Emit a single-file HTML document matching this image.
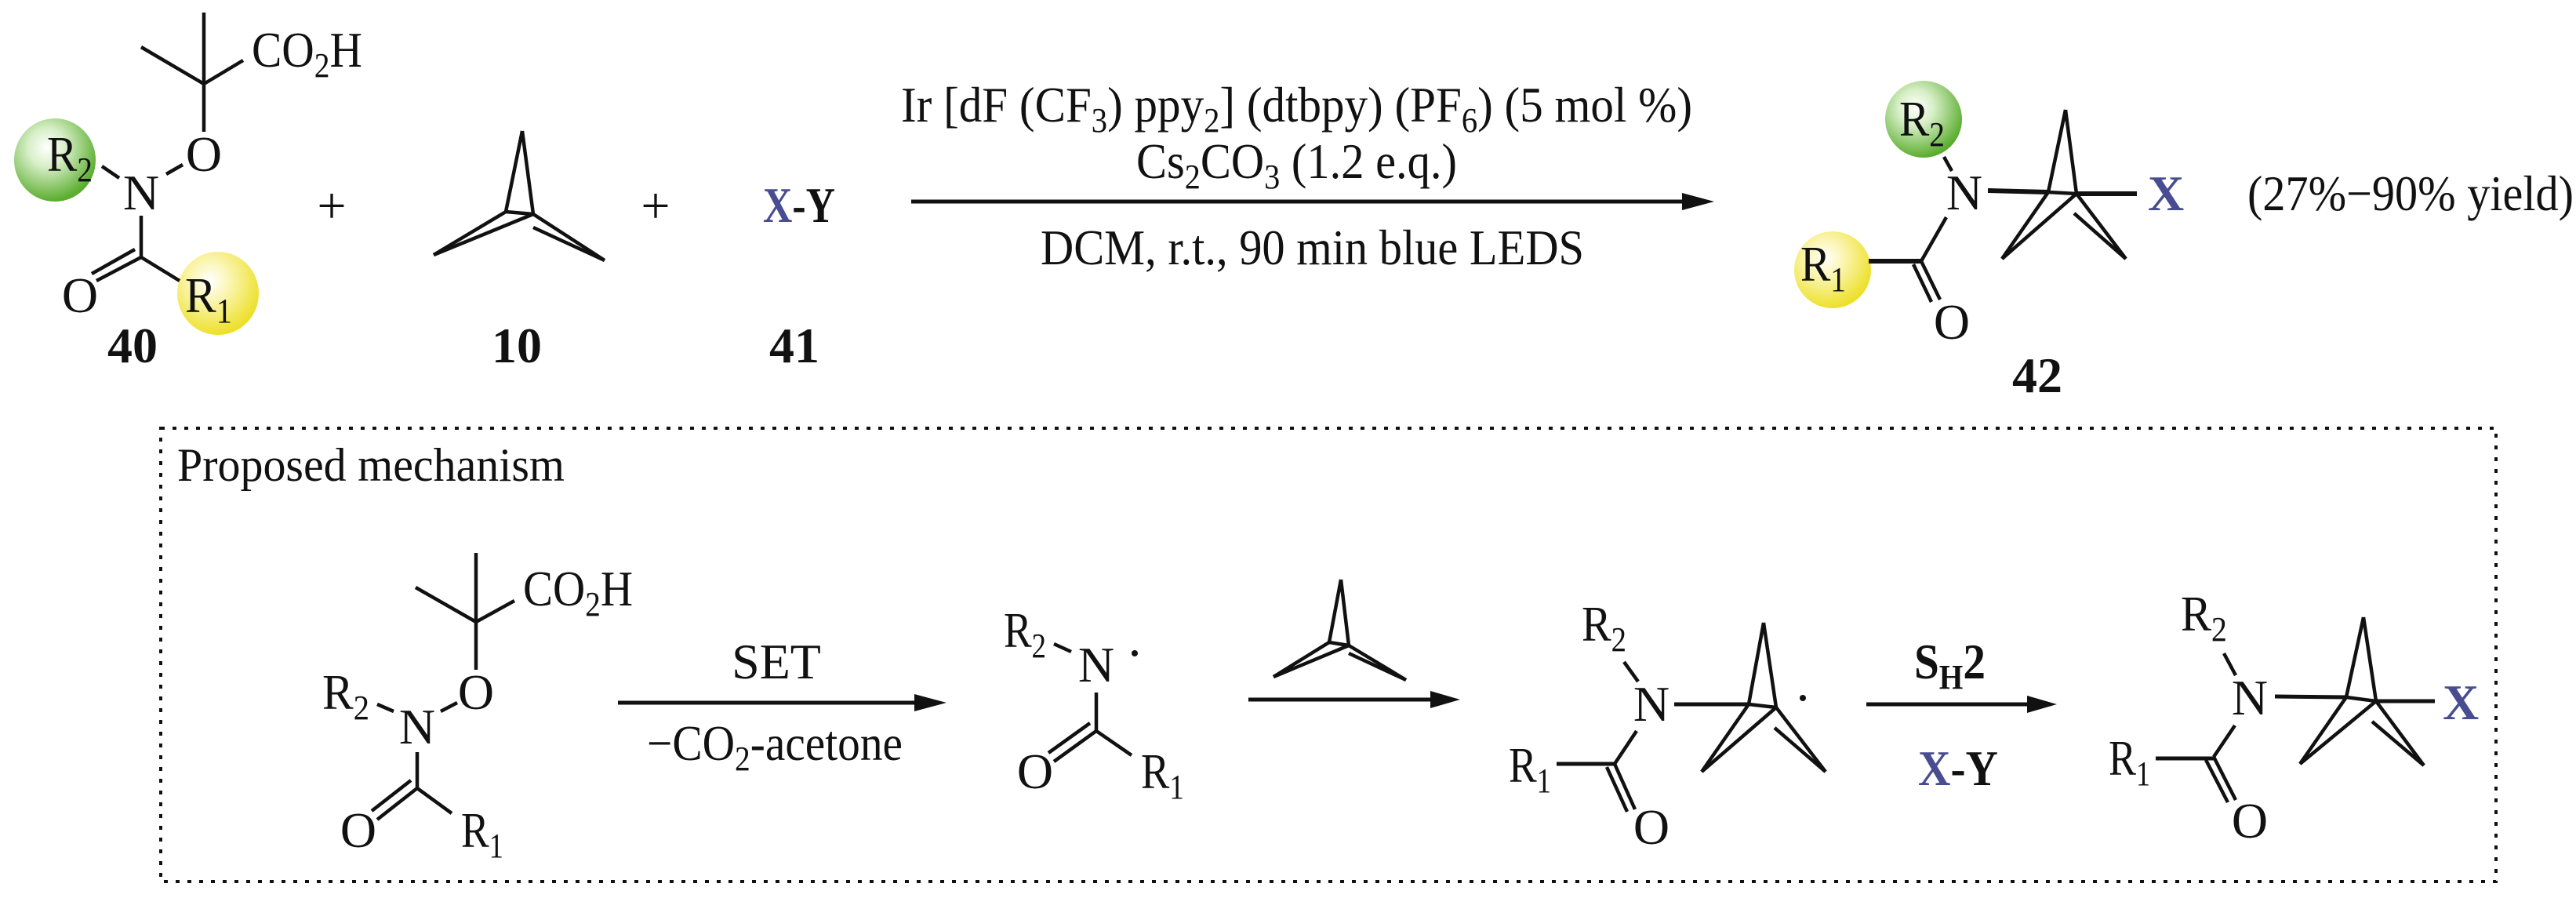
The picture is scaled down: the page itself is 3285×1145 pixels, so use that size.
<!DOCTYPE html>
<html><head><meta charset="utf-8"><style>html,body{margin:0;padding:0;background:#fff}svg{display:block}
text{font-family:"Liberation Serif","Times New Roman",serif}</style></head>
<body>
<svg xmlns="http://www.w3.org/2000/svg" width="3285" height="1145" viewBox="0 0 3285 1145" fill="#111">
<defs>
<radialGradient id="g" cx="0.4" cy="0.35" r="0.65"><stop offset="0" stop-color="#ffffff"/><stop offset="0.35" stop-color="#d8efc8"/><stop offset="1" stop-color="#5aad2e"/></radialGradient>
<radialGradient id="y" cx="0.4" cy="0.35" r="0.65"><stop offset="0" stop-color="#ffffff"/><stop offset="0.35" stop-color="#fbf6b8"/><stop offset="1" stop-color="#ede02a"/></radialGradient>
</defs>
<rect width="3285" height="1145" fill="#fff"/>

<ellipse cx="70" cy="204" rx="52" ry="53" fill="url(#g)"/>
<ellipse cx="278" cy="374" rx="52" ry="53" fill="url(#y)"/>
<ellipse cx="2453" cy="152" rx="49" ry="49" fill="url(#g)"/>
<ellipse cx="2337" cy="344" rx="49" ry="49" fill="url(#y)"/>

<g stroke="#111" stroke-width="4.5" fill="none" stroke-linecap="butt">
<line x1="260" y1="16" x2="260" y2="168"/>
<line x1="180" y1="60" x2="260" y2="107"/>
<line x1="260" y1="107" x2="310" y2="77"/>
<line x1="212" y1="222" x2="233" y2="210"/>
<line x1="130" y1="212" x2="152" y2="227"/>
<line x1="180" y1="275" x2="180" y2="328"/>
<line x1="180" y1="328" x2="229" y2="358"/>
<line x1="180" y1="328" x2="123" y2="358"/>
<line x1="172" y1="318" x2="117" y2="349"/>
<line x1="666" y1="167" x2="645" y2="270"/>
<line x1="666" y1="167" x2="680" y2="273"/>
<line x1="645" y1="270" x2="680" y2="273"/>
<line x1="553" y1="325" x2="645" y2="270"/>
<line x1="553" y1="325" x2="680" y2="273"/>
<line x1="771" y1="332" x2="680" y2="273"/>
<line x1="771" y1="332" x2="680" y2="290"/>
<line x1="1162" y1="257" x2="2150" y2="257" stroke-width="5"/>
<line x1="2479" y1="200" x2="2489" y2="218"/>
<line x1="2535" y1="243" x2="2612" y2="245" stroke-width="6"/>
<line x1="2634" y1="140" x2="2612" y2="245"/>
<line x1="2634" y1="140" x2="2648" y2="247"/>
<line x1="2612" y1="245" x2="2648" y2="247"/>
<line x1="2553" y1="330" x2="2612" y2="245"/>
<line x1="2553" y1="330" x2="2648" y2="247"/>
<line x1="2711" y1="330" x2="2648" y2="247"/>
<line x1="2711" y1="330" x2="2645" y2="272"/>
<line x1="2648" y1="247" x2="2725" y2="247" stroke-width="6"/>
<line x1="2482" y1="277" x2="2450" y2="333"/>
<line x1="2383" y1="333" x2="2450" y2="333" stroke-width="6"/>
<line x1="2450" y1="333" x2="2474" y2="382"/>
<line x1="2440" y1="337" x2="2463" y2="385"/>

<rect x="205" y="546" width="2978" height="578" stroke-width="4" stroke-dasharray="5 10"/>

<line x1="607" y1="705" x2="607" y2="854"/>
<line x1="530" y1="749" x2="607" y2="793"/>
<line x1="607" y1="793" x2="656" y2="766"/>
<line x1="562" y1="907" x2="583" y2="896"/>
<line x1="481" y1="898" x2="502" y2="907"/>
<line x1="532" y1="959" x2="532" y2="1005"/>
<line x1="532" y1="1005" x2="576" y2="1037"/>
<line x1="532" y1="1005" x2="481" y2="1045"/>
<line x1="524" y1="995" x2="474" y2="1034"/>
<line x1="788" y1="896" x2="1172" y2="896" stroke-width="5"/>
<line x1="1344" y1="821" x2="1366" y2="831"/>
<line x1="1398" y1="883" x2="1398" y2="932"/>
<line x1="1398" y1="932" x2="1443" y2="963"/>
<line x1="1398" y1="932" x2="1344" y2="971"/>
<line x1="1390" y1="922" x2="1337" y2="960"/>
<line x1="1710" y1="739" x2="1695" y2="819"/>
<line x1="1710" y1="739" x2="1720" y2="823"/>
<line x1="1695" y1="819" x2="1720" y2="823"/>
<line x1="1624" y1="863" x2="1695" y2="819"/>
<line x1="1624" y1="863" x2="1720" y2="823"/>
<line x1="1793" y1="867" x2="1720" y2="823"/>
<line x1="1793" y1="867" x2="1720" y2="833"/>
<line x1="1592" y1="892" x2="1830" y2="892" stroke-width="5"/>
<line x1="2071" y1="844" x2="2089" y2="869"/>
<line x1="2135" y1="898" x2="2230" y2="898" stroke-width="5"/>
<line x1="2249" y1="794" x2="2230" y2="898"/>
<line x1="2249" y1="794" x2="2265" y2="902"/>
<line x1="2230" y1="898" x2="2265" y2="902"/>
<line x1="2170" y1="984" x2="2230" y2="898"/>
<line x1="2170" y1="984" x2="2265" y2="902"/>
<line x1="2328" y1="984" x2="2265" y2="902"/>
<line x1="2328" y1="984" x2="2263" y2="928"/>
<line x1="2087" y1="932" x2="2059" y2="974"/>
<line x1="1985" y1="974" x2="2059" y2="974" stroke-width="5"/>
<line x1="2059" y1="974" x2="2085" y2="1032"/>
<line x1="2049" y1="978" x2="2075" y2="1035"/>
<line x1="2380" y1="898" x2="2595" y2="898" stroke-width="5"/>
<line x1="2836" y1="833" x2="2851" y2="861"/>
<line x1="2901" y1="888" x2="2992" y2="889" stroke-width="5"/>
<line x1="3014" y1="787" x2="2992" y2="889"/>
<line x1="3014" y1="787" x2="3030" y2="894"/>
<line x1="2992" y1="889" x2="3030" y2="894"/>
<line x1="2933" y1="974" x2="2992" y2="889"/>
<line x1="2933" y1="974" x2="3030" y2="894"/>
<line x1="3091" y1="976" x2="3030" y2="894"/>
<line x1="3091" y1="976" x2="3025" y2="920"/>
<line x1="3030" y1="894" x2="3105" y2="894" stroke-width="5"/>
<line x1="2850" y1="925" x2="2823" y2="965"/>
<line x1="2749" y1="967" x2="2823" y2="967" stroke-width="5"/>
<line x1="2823" y1="965" x2="2851" y2="1020"/>
<line x1="2813" y1="969" x2="2841" y2="1023"/>
</g>

<polygon points="2186,257 2145,246 2145,268" fill="#111"/>
<polygon points="1207,896 1166,885 1166,907" fill="#111"/>
<polygon points="1862,892 1824,881 1824,903" fill="#111"/>
<polygon points="2623,898 2585,887 2585,909" fill="#111"/>

<g font-size="64">
<text x="321" y="85" textLength="141" lengthAdjust="spacingAndGlyphs">CO<tspan font-size="44" dy="13">2</tspan><tspan dy="-13">H</tspan></text>
<text x="260" y="218" text-anchor="middle">O</text>
<text x="60" y="218" textLength="58" lengthAdjust="spacingAndGlyphs">R<tspan font-size="44" dy="13">2</tspan></text>
<text x="180" y="267" text-anchor="middle">N</text>
<text x="102" y="398" text-anchor="middle">O</text>
<text x="236" y="398" textLength="60" lengthAdjust="spacingAndGlyphs">R<tspan font-size="44" dy="13">1</tspan></text>
<text x="423" y="284" text-anchor="middle" font-size="66">+</text>
<text x="836" y="284" text-anchor="middle" font-size="66">+</text>
<text x="973" y="283" font-weight="bold" textLength="92" lengthAdjust="spacingAndGlyphs"><tspan fill="#484d92">X</tspan>-Y</text>
<text x="169" y="462" text-anchor="middle" font-weight="bold">40</text>
<text x="659" y="462" text-anchor="middle" font-weight="bold">10</text>
<text x="1013" y="462" text-anchor="middle" font-weight="bold">41</text>
<text x="2598" y="500" text-anchor="middle" font-weight="bold">42</text>

<text x="1149" y="155" textLength="1009" lengthAdjust="spacingAndGlyphs">Ir [dF (CF<tspan font-size="44" dy="13">3</tspan><tspan dy="-13">) ppy</tspan><tspan font-size="44" dy="13">2</tspan><tspan dy="-13">] (dtbpy) (PF</tspan><tspan font-size="44" dy="13">6</tspan><tspan dy="-13">) (5 mol %)</tspan></text>
<text x="1449" y="227" textLength="409" lengthAdjust="spacingAndGlyphs">Cs<tspan font-size="44" dy="13">2</tspan><tspan dy="-13">CO</tspan><tspan font-size="44" dy="13">3</tspan><tspan dy="-13"> (1.2 e.q.)</tspan></text>
<text x="1327" y="337" textLength="693" lengthAdjust="spacingAndGlyphs">DCM, r.t., 90 min blue LEDS</text>

<text x="2422" y="173" textLength="58" lengthAdjust="spacingAndGlyphs">R<tspan font-size="44" dy="13">2</tspan></text>
<text x="2505" y="267" text-anchor="middle">N</text>
<text x="2739" y="268" font-weight="bold" fill="#484d92">X</text>
<text x="2296" y="358" textLength="58" lengthAdjust="spacingAndGlyphs">R<tspan font-size="44" dy="13">1</tspan></text>
<text x="2489" y="432" text-anchor="middle">O</text>
<text x="2866" y="268" textLength="416" lengthAdjust="spacingAndGlyphs">(27%−90% yield)</text>

<text x="226" y="613" textLength="494" lengthAdjust="spacingAndGlyphs" font-size="60">Proposed mechanism</text>
<text x="667" y="772" textLength="140" lengthAdjust="spacingAndGlyphs">CO<tspan font-size="44" dy="13">2</tspan><tspan dy="-13">H</tspan></text>
<text x="607" y="904" text-anchor="middle">O</text>
<text x="411" y="904" textLength="60" lengthAdjust="spacingAndGlyphs">R<tspan font-size="44" dy="13">2</tspan></text>
<text x="532" y="948" text-anchor="middle">N</text>
<text x="457" y="1080" text-anchor="middle">O</text>
<text x="588" y="1080" textLength="54" lengthAdjust="spacingAndGlyphs">R<tspan font-size="44" dy="13">1</tspan></text>
<text x="990" y="865" text-anchor="middle">SET</text>
<text x="825" y="969" textLength="326" lengthAdjust="spacingAndGlyphs">−CO<tspan font-size="44" dy="13">2</tspan><tspan dy="-13">-acetone</tspan></text>

<text x="1280" y="825" textLength="54" lengthAdjust="spacingAndGlyphs">R<tspan font-size="44" dy="13">2</tspan></text>
<text x="1398" y="869" text-anchor="middle">N</text>
<circle cx="1447" cy="833" r="4"/>
<text x="1320" y="1005" text-anchor="middle">O</text>
<text x="1455" y="1005" textLength="55" lengthAdjust="spacingAndGlyphs">R<tspan font-size="44" dy="13">1</tspan></text>

<text x="2017" y="817" textLength="57" lengthAdjust="spacingAndGlyphs">R<tspan font-size="44" dy="13">2</tspan></text>
<text x="2106" y="919" text-anchor="middle">N</text>
<text x="1924" y="997" textLength="54" lengthAdjust="spacingAndGlyphs">R<tspan font-size="44" dy="13">1</tspan></text>
<text x="2106" y="1076" text-anchor="middle">O</text>
<circle cx="2299" cy="890" r="4"/>

<text x="2441" y="865" font-weight="bold" textLength="91" lengthAdjust="spacingAndGlyphs">S<tspan font-size="44" dy="13">H</tspan><tspan dy="-13">2</tspan></text>
<text x="2446" y="1001" font-weight="bold" textLength="102" lengthAdjust="spacingAndGlyphs"><tspan fill="#484d92">X</tspan>-Y</text>

<text x="2781" y="804" textLength="59" lengthAdjust="spacingAndGlyphs">R<tspan font-size="44" dy="13">2</tspan></text>
<text x="2869" y="911" text-anchor="middle">N</text>
<text x="3115" y="917" font-weight="bold" fill="#484d92">X</text>
<text x="2689" y="988" textLength="53" lengthAdjust="spacingAndGlyphs">R<tspan font-size="44" dy="13">1</tspan></text>
<text x="2869" y="1068" text-anchor="middle">O</text>
</g>
</svg>
</body></html>
